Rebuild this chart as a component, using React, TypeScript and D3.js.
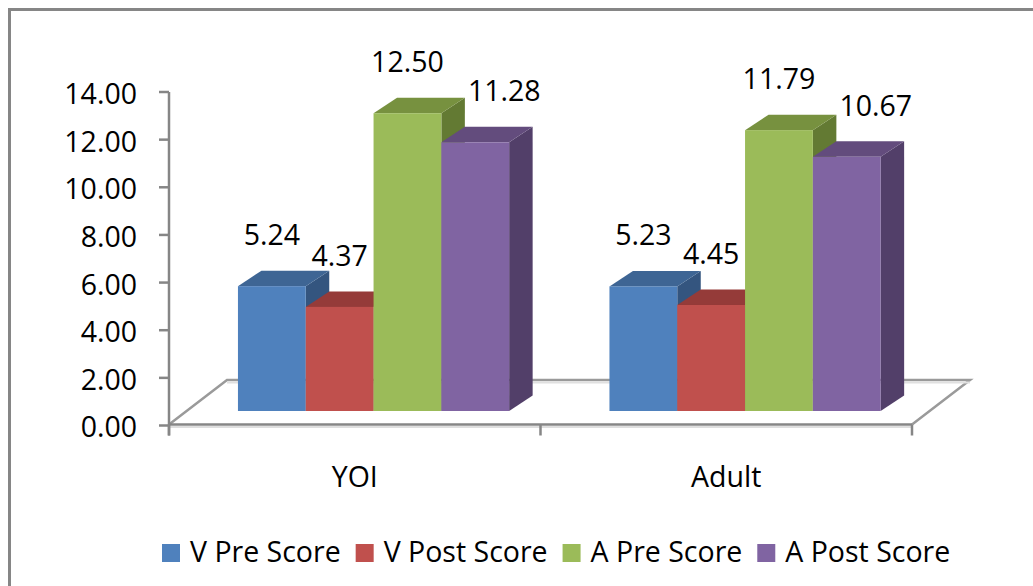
import * as d3 from "d3";
import { useEffect, useRef } from "react";

// chart values
const categories = ["YOI", "Adult"];
const seriesNames = ["V Pre Score", "V Post Score", "A Pre Score", "A Post Score"];
const vPreScore = [5.24, 5.23];
const vPostScore = [4.37, 4.45];
const aPreScore = [12.5, 11.79];
const aPostScore = [11.28, 10.67];
const yTickValues = [0, 2, 4, 6, 8, 10, 12, 14];

const seriesValues = [vPreScore, vPostScore, aPreScore, aPostScore];

// front / top / side shades per series
const palette = [
  { front: "#4F81BD", top: "#3E6594", side: "#34557F" },
  { front: "#C0504D", top: "#953B39", side: "#7E3231" },
  { front: "#9BBB59", top: "#77913F", side: "#637A33" },
  { front: "#8064A2", top: "#634C7D", side: "#523F69" },
];

const WIDTH = 1033;
const HEIGHT = 586;
const FONT = "'Open Sans', 'DejaVu Sans', sans-serif";
const AXIS_GRAY = "#868686";

export default function App() {
  const svgRef = useRef<SVGSVGElement>(null);

  useEffect(() => {
    if (!svgRef.current) return;
    const svg = d3.select(svgRef.current);
    svg.selectAll("*").remove();

    // plot frame (front plane of floor)
    const left = 169;
    const right = 912;
    const floorDepth = { dx: 58, dy: -44.5 };
    const barShift = { dx: 18.8, dy: -14.5 };
    const barDepth = { dx: 23.5, dy: -15.5 };

    const yScale = d3.scaleLinear().domain([0, 14]).range([425.5, 92]);

    const xCat = d3.scaleBand<string>().domain(categories).range([left, right]);
    const xGroup = d3
      .scaleBand<string>()
      .domain(categories)
      .range([left, right])
      .paddingInner(0.27)
      .paddingOuter(0.135);
    const xSeries = d3
      .scaleBand<string>()
      .domain(seriesNames)
      .range([0, xGroup.bandwidth()]);

    // outer border
    svg
      .append("rect")
      .attr("x", 9.5)
      .attr("y", 9.5)
      .attr("width", WIDTH + 20)
      .attr("height", HEIGHT + 20)
      .attr("fill", "white")
      .attr("stroke", AXIS_GRAY)
      .attr("stroke-width", 3);

    const floorY = yScale(0) - 1;

    // floor outline
    const floor = svg.append("g").attr("fill", "none");
    floor
      .append("path")
      .attr(
        "d",
        `M${left},${floorY}L${left + floorDepth.dx},${floorY + floorDepth.dy}` +
          `L${right + floorDepth.dx},${floorY + floorDepth.dy}L${right},${floorY}`,
      )
      .attr("stroke", "#9a9a9a")
      .attr("stroke-width", 2.5);
    floor
      .append("line")
      .attr("x1", left + floorDepth.dx)
      .attr("x2", right + floorDepth.dx)
      .attr("y1", floorY + floorDepth.dy + 2.5)
      .attr("y2", floorY + floorDepth.dy + 2.5)
      .attr("stroke", "#e0e0e0")
      .attr("stroke-width", 2);
    floor
      .append("line")
      .attr("x1", left)
      .attr("x2", right)
      .attr("y1", floorY + 2.5)
      .attr("y2", floorY + 2.5)
      .attr("stroke", "#dedede")
      .attr("stroke-width", 2);
    floor
      .append("line")
      .attr("x1", left)
      .attr("x2", right)
      .attr("y1", floorY)
      .attr("y2", floorY)
      .attr("stroke", AXIS_GRAY)
      .attr("stroke-width", 2.5);

    // category tick marks
    const catTicks = [left, ...categories.slice(1).map((c) => xCat(c) as number), right];
    floor
      .selectAll(".cat-tick")
      .data(catTicks)
      .enter()
      .append("line")
      .attr("x1", (d) => d)
      .attr("x2", (d) => d)
      .attr("y1", floorY)
      .attr("y2", floorY + 11)
      .attr("stroke", AXIS_GRAY)
      .attr("stroke-width", 2.5);

    // value axis
    const yAxis = svg.append("g");
    yAxis
      .append("line")
      .attr("x1", left)
      .attr("x2", left)
      .attr("y1", yScale(14))
      .attr("y2", floorY + 11)
      .attr("stroke", AXIS_GRAY)
      .attr("stroke-width", 2.5);
    yAxis
      .selectAll(".y-tick")
      .data(yTickValues)
      .enter()
      .append("line")
      .attr("x1", left - 10)
      .attr("x2", left)
      .attr("y1", (d) => yScale(d))
      .attr("y2", (d) => yScale(d))
      .attr("stroke", AXIS_GRAY)
      .attr("stroke-width", 2.5);
    yAxis
      .selectAll(".y-label")
      .data(yTickValues)
      .enter()
      .append("text")
      .attr("x", 137)
      .attr("y", (d) => yScale(d) + 2)
      .attr("dy", "0.35em")
      .attr("text-anchor", "end")
      .style("font-family", FONT)
      .style("font-size", "28.5px")
      .style("fill", "#000")
      .text((d) => d3.format(".2f")(d));

    // 3D bars, drawn left to right so the later faces overlap correctly
    const bars = svg.append("g");
    const labels = svg.append("g");
    categories.forEach((cat, ci) => {
      seriesNames.forEach((name, si) => {
        const v = seriesValues[si][ci];
        const x0 = (xGroup(cat) as number) + (xSeries(name) as number) + barShift.dx;
        const x1 = x0 + xSeries.bandwidth();
        const yTop = yScale(v) + barShift.dy;
        const yBot = yScale(0) + barShift.dy;
        const c = palette[si];
        const g = bars.append("g");
        g.append("path")
          .attr(
            "d",
            `M${x1},${yTop}L${x1 + barDepth.dx},${yTop + barDepth.dy}` +
              `L${x1 + barDepth.dx},${yBot + barDepth.dy}L${x1},${yBot}Z`,
          )
          .attr("fill", c.side);
        g.append("path")
          .attr(
            "d",
            `M${x0},${yTop}L${x0 + barDepth.dx},${yTop + barDepth.dy}` +
              `L${x1 + barDepth.dx},${yTop + barDepth.dy}L${x1},${yTop}Z`,
          )
          .attr("fill", c.top);
        g.append("rect")
          .attr("x", x0)
          .attr("y", yTop)
          .attr("width", x1 - x0)
          .attr("height", yBot - yTop)
          .attr("fill", c.front);

        // last series label is nudged right to clear its taller neighbour
        const nudge = si === seriesNames.length - 1 ? 29 : 0;
        labels
          .append("text")
          .attr("x", (x0 + x1) / 2 + nudge)
          .attr("y", yTop - 41)
          .attr("text-anchor", "middle")
          .style("font-family", FONT)
          .style("font-size", "28.5px")
          .style("fill", "#000")
          .text(d3.format(".2f")(v));
      });
    });

    // category labels
    svg
      .append("g")
      .selectAll("text")
      .data(categories)
      .enter()
      .append("text")
      .attr("x", (d) => (xCat(d) as number) + xCat.bandwidth() / 2)
      .attr("y", 486.5)
      .attr("text-anchor", "middle")
      .style("font-family", FONT)
      .style("font-size", "28.5px")
      .style("fill", "#000")
      .text((d) => d);

    // legend
    const legend = svg.append("g");
    let lx = 162;
    seriesNames.forEach((name, si) => {
      legend
        .append("rect")
        .attr("x", lx)
        .attr("y", 544)
        .attr("width", 18)
        .attr("height", 18)
        .attr("fill", palette[si].front);
      const t = legend
        .append("text")
        .attr("x", lx + 28)
        .attr("y", 561.5)
        .style("font-family", FONT)
        .style("font-size", "28.5px")
        .style("fill", "#000")
        .text(name);
      const w = (t.node() as SVGTextElement).getComputedTextLength();
      lx += 28 + w + 15;
    });
  }, []);

  return (
    <svg
      ref={svgRef}
      width={WIDTH}
      height={HEIGHT}
      style={{ position: "absolute", left: 0, top: 0, display: "block" }}
    />
  );
}
